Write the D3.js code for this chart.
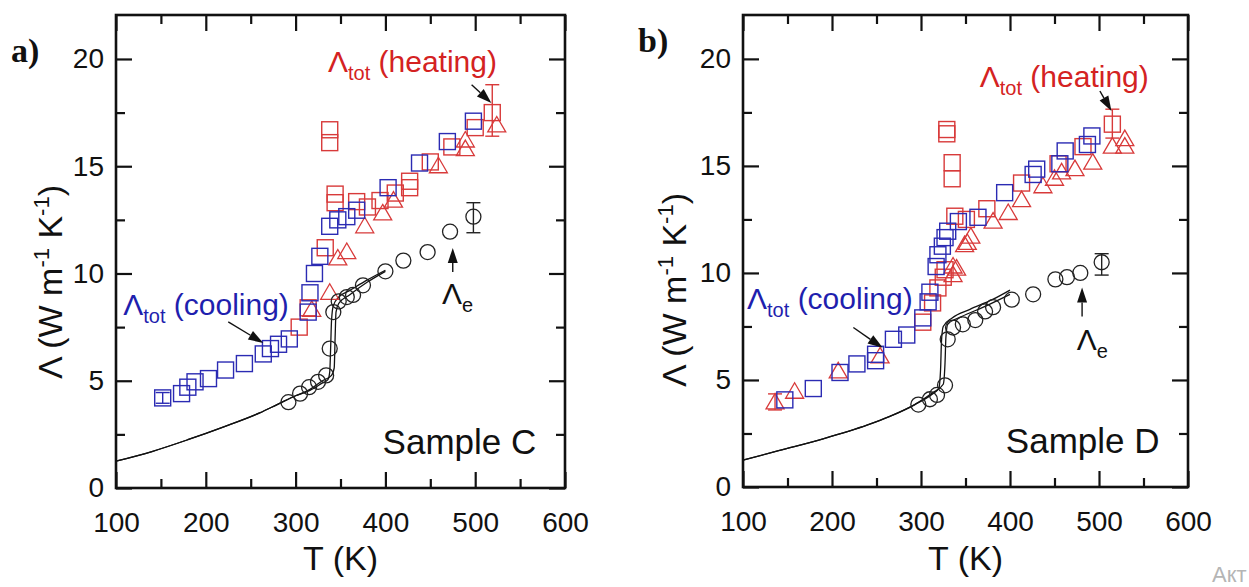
<!DOCTYPE html>
<html>
<head>
<meta charset="utf-8">
<script src="https://cdn.jsdelivr.net/npm/d3@7"></script>
<style>
  body { margin: 0; background: #fff; }
  svg { display: block; font-family: "Liberation Sans", Arial, sans-serif; }
</style>
</head>
<body>
<svg id="chart" width="1249" height="587"></svg>
<script>
// axis ticks, shared by both panels
var T_TICKS = [100, 200, 300, 400, 500, 600];
var T_MINOR = [150, 250, 350, 450, 550];
var L_TICKS = [0, 5, 10, 15, 20];
var L_MINOR = [2.5, 7.5, 12.5, 17.5];

// ---- sample C (panel a) : [T (K), Lambda (W m-1 K-1)]
var coolC = [[152,4.2],[173,4.4],[180,4.7],[188,4.95],[203,5.1],[222,5.5],[243,5.8],[264,6.25],[272,6.5],
  [281,6.7],[293,6.95],[314,8.2],[316,9.1],[321,10.0],[327,10.8],[338,12.2],[347,12.5],[357,12.65],
  [368,12.95],[403,14.0],[438,15.15],[469,16.15],[498,17.1]];
var heatSqC = [[304,7.5],[314,8.4],[333,11.2],[338,16.7],[338,16.1],[344,13.7],[344,13.3],[368,13.35],
  [380,13.1],[394,13.4],[411,13.75],[427,14.3],[427,14.0],[450,15.2],[474,15.9],[500,16.8],[519,17.5]];
var heatTriC = [[318,8.3],[338,9.1],[347,10.7],[357,11.0],[377,12.2],[397,12.8],[409,13.4],[459,15.0],
  [489,16.2],[489,15.8],[524,16.9]];
var elecC = [[292,4.0],[305,4.4],[315,4.7],[325,4.95],[334,5.25],[338,6.5],[342,8.2],[348,8.7],[357,8.9],
  [364,9.0],[375,9.45],[400,10.1],[420,10.6],[447,11.0],[472,11.95],[498,12.65]];
var modelC1 = [[100,1.25],[140,1.7],[180,2.25],[220,2.85],[260,3.5],[280,3.9],[300,4.3],[316,4.55],
  [330,4.9],[336,5.05],[338,5.4],[339,6.5],[340,7.8],[342,8.5],[348,8.9],[360,9.2],[380,9.7],[400,10.15]];
var modelC2 = [[100,1.25],[140,1.7],[180,2.25],[220,2.85],[260,3.5],[280,3.9],[300,4.3],[316,4.6],
  [330,5.0],[340,5.25],[343,5.6],[344,7.0],[345,8.2],[348,8.6],[360,9.0],[380,9.6],[400,10.1]];
// error bars: [T, low, high]
var errC = [[152,3.95,4.45],[519,16.4,18.8],[498,11.9,13.3]];

// ---- sample D (panel b)
var coolD = [[147,4.07],[179,4.6],[209,5.35],[228,5.75],[249,5.9],[249,6.2],[269,6.9],[284,7.1],[302,7.9],
  [308,8.65],[310,9.1],[317,10.3],[319,10.85],[324,11.25],[327,11.65],[330,11.95],[342,12.4],[364,12.6],
  [394,13.75],[426,14.6],[430,14.85],[456,15.1],[462,15.7],[487,16.0],[492,16.4]];
var heatSqD = [[302,7.7],[313,8.6],[319,9.3],[325,9.8],[327,10.15],[329,16.7],[329,16.5],[335,15.15],
  [335,14.4],[338,12.65],[351,12.5],[374,13.0],[413,14.2],[454,15.1],[482,15.9],[515,16.95]];
var heatTriD = [[136,3.95],[158,4.45],[207,5.4],[254,6.1],[336,9.9],[336,10.3],[340,10.2],[349,11.3],
  [352,11.4],[356,11.7],[381,12.4],[398,12.8],[413,13.4],[437,14.05],[450,14.4],[458,14.7],[473,14.85],
  [493,15.15],[515,15.9],[529,16.25],[529,15.9]];
var elecD = [[297,3.85],[310,4.1],[318,4.3],[327,4.75],[330,6.9],[336,7.45],[347,7.6],[361,7.8],[372,8.2],
  [381,8.4],[402,8.75],[426,9.0],[451,9.7],[464,9.8],[479,10.0],[503,10.5]];
var modelD1 = [[100,1.25],[140,1.7],[190,2.25],[240,2.9],[265,3.3],[293,3.85],[313,4.35],[320,4.6],
  [322,5.5],[323,6.8],[325,7.5],[335,7.9],[355,8.3],[380,8.75],[400,9.2]];
var modelD2 = [[100,1.25],[140,1.7],[190,2.25],[240,2.9],[265,3.3],[293,3.85],[313,4.4],[325,4.8],
  [327,5.8],[328,7.0],[330,7.6],[345,7.95],[370,8.4],[400,9.0]];
var errD = [[136,3.6,4.35],[515,16.3,17.65],[503,9.9,10.9]];

var BLUE = "#2b2bb3", RED = "#d83a3a", RED_TXT = "#d42222", BLUE_TXT = "#1f1fae", INK = "#111";

var svg = d3.select("#chart");
svg.append("rect").attr("width", 1249).attr("height", 587).attr("fill", "#fff");

function makePanel(box) {
  var x = d3.scaleLinear().domain([100, 600]).range([box.left, box.right]);
  var y = d3.scaleLinear().domain([0, 22.05]).range([box.bottom, box.top]);
  var g = svg.append("g");

  function axis(gen, scale, vals, size, labels, tx, ty) {
    var a = gen(scale).tickValues(vals).tickSizeInner(-size).tickSizeOuter(0);
    if (!labels) a.tickFormat("");
    var ag = g.append("g").attr("transform", "translate(" + tx + "," + ty + ")").call(a);
    ag.select(".domain").remove();
    ag.selectAll("line").attr("stroke", INK).attr("stroke-width", 2.2);
    return ag;
  }

  var bx = axis(d3.axisBottom, x, T_TICKS, 16, true, 0, box.bottom);
  bx.selectAll("text").attr("font-size", 28).attr("fill", INK).attr("font-family", "Liberation Sans, Arial, sans-serif");
  bx.selectAll(".tick text").attr("y", 24);
  axis(d3.axisBottom, x, T_MINOR, 9, false, 0, box.bottom);
  axis(d3.axisTop, x, T_TICKS, 16, false, 0, box.top);
  axis(d3.axisTop, x, T_MINOR, 9, false, 0, box.top);

  var ly = axis(d3.axisLeft, y, L_TICKS, 16, true, box.left, 0);
  ly.selectAll("text").attr("font-size", 28).attr("fill", INK).attr("font-family", "Liberation Sans, Arial, sans-serif").attr("x", -box.labelGap);
  axis(d3.axisLeft, y, L_MINOR, 9, false, box.left, 0);
  axis(d3.axisRight, y, L_TICKS, 16, false, box.right, 0);
  axis(d3.axisRight, y, L_MINOR, 9, false, box.right, 0);

  g.append("rect")
    .attr("x", box.left).attr("y", box.top)
    .attr("width", box.right - box.left).attr("height", box.bottom - box.top)
    .attr("fill", "none").attr("stroke", INK).attr("stroke-width", 2.6);

  // axis titles
  g.append("text")
    .attr("x", (box.left + box.right) / 2).attr("y", 570)
    .attr("text-anchor", "middle").attr("font-size", 34).attr("fill", INK)
    .text("T (K)");

  var yt = g.append("text")
    .attr("transform", "translate(" + box.titleX + "," + box.titleY + ") rotate(-90)")
    .attr("text-anchor", "middle").attr("font-size", 34).attr("fill", INK);
  yt.append("tspan").text("Λ (W m");
  yt.append("tspan").attr("font-size", 22).attr("dy", -13).text("-1");
  yt.append("tspan").attr("dy", 13).text(" K");
  yt.append("tspan").attr("font-size", 22).attr("dy", -13).text("-1");
  yt.append("tspan").attr("dy", 13).text(")");

  g.append("text")
    .attr("x", box.tagX).attr("y", box.tagY)
    .attr("font-family", "Liberation Serif, Times New Roman, serif")
    .attr("font-weight", "bold").attr("font-size", 34).attr("fill", INK)
    .text(box.tag);

  return { g: g, x: x, y: y };
}

function plotLines(p, curves) {
  var line = d3.line().x(function(d) { return p.x(d[0]); }).y(function(d) { return p.y(d[1]); })
    .curve(d3.curveMonotoneX);
  curves.forEach(function(c) {
    p.g.append("path").datum(c)
      .attr("d", line).attr("fill", "none").attr("stroke", INK).attr("stroke-width", 1.3);
  });
}

function plotErrors(p, errs, color) {
  errs.forEach(function(e, i) {
    var cx = p.x(e[0]);
    var eg = p.g.append("g").attr("stroke", color[i]).attr("stroke-width", 1.4);
    eg.append("line").attr("x1", cx).attr("x2", cx).attr("y1", p.y(e[1])).attr("y2", p.y(e[2]));
    [e[1], e[2]].forEach(function(v) {
      eg.append("line").attr("x1", cx - 7).attr("x2", cx + 7).attr("y1", p.y(v)).attr("y2", p.y(v));
    });
  });
}

function plotSquares(p, data, color) {
  p.g.append("g").selectAll("rect").data(data).enter().append("rect")
    .attr("x", function(d) { return p.x(d[0]) - 8; })
    .attr("y", function(d) { return p.y(d[1]) - 8; })
    .attr("width", 16).attr("height", 16)
    .attr("fill", "none").attr("stroke", color).attr("stroke-width", 1.4);
}

function plotTriangles(p, data, color) {
  p.g.append("g").selectAll("path").data(data).enter().append("path")
    .attr("d", function(d) {
      var cx = p.x(d[0]), cy = p.y(d[1]);
      return "M" + cx + "," + (cy - 9) + "L" + (cx + 9) + "," + (cy + 6.5) + "L" + (cx - 9) + "," + (cy + 6.5) + "Z";
    })
    .attr("fill", "none").attr("stroke", color).attr("stroke-width", 1.3);
}

function plotCircles(p, data) {
  p.g.append("g").selectAll("circle").data(data).enter().append("circle")
    .attr("cx", function(d) { return p.x(d[0]); })
    .attr("cy", function(d) { return p.y(d[1]); })
    .attr("r", 7.5).attr("fill", "none").attr("stroke", "#222").attr("stroke-width", 1.3);
}

function arrow(p, t1, v1, t2, v2) {
  var x1 = p.x(t1), y1 = p.y(v1), x2 = p.x(t2), y2 = p.y(v2);
  var ang = Math.atan2(y2 - y1, x2 - x1), len = 15, hw = 5;
  var bx = x2 - len * Math.cos(ang), by = y2 - len * Math.sin(ang);
  p.g.append("line").attr("x1", x1).attr("y1", y1).attr("x2", bx).attr("y2", by)
    .attr("stroke", INK).attr("stroke-width", 1.4);
  p.g.append("path")
    .attr("d", "M" + x2 + "," + y2 +
      "L" + (bx + hw * Math.sin(ang)) + "," + (by - hw * Math.cos(ang)) +
      "L" + (bx - hw * Math.sin(ang)) + "," + (by + hw * Math.cos(ang)) + "Z")
    .attr("fill", INK);
}

function lambdaLabel(p, t, v, sub, rest, color) {
  var tx = p.g.append("text").attr("x", p.x(t)).attr("y", p.y(v)).attr("font-size", 30).attr("fill", color);
  tx.append("tspan").text("Λ");
  tx.append("tspan").attr("font-size", 20).attr("dy", 8).text(sub);
  if (rest) tx.append("tspan").attr("font-size", 30).attr("dy", -8).text(rest);
}

function sampleLabel(p, text) {
  p.g.append("text").attr("x", p.x(568)).attr("y", p.y(1.6))
    .attr("text-anchor", "end").attr("font-size", 35).attr("fill", INK).text(text);
}

// ---- panel a
var pa = makePanel({ left: 116, right: 565, top: 15, bottom: 488, labelGap: 12,
  titleX: 62, titleY: 282, tag: "a)", tagX: 11, tagY: 62 });
plotLines(pa, [modelC1, modelC2]);
plotErrors(pa, errC, [BLUE, RED, "#222"]);
plotTriangles(pa, heatTriC, RED);
plotSquares(pa, heatSqC, RED);
plotSquares(pa, coolC, BLUE);
plotCircles(pa, elecC);
arrow(pa, 496, 18.8, 518, 17.95);
arrow(pa, 225, 7.74, 264, 6.76);
arrow(pa, 475, 10.07, 475, 11.19);
lambdaLabel(pa, 336, 19.4, "tot", " (heating)", RED_TXT);
lambdaLabel(pa, 108, 8.07, "tot", " (cooling)", BLUE_TXT);
lambdaLabel(pa, 463, 8.6, "e", null, INK);
sampleLabel(pa, "Sample C");

// ---- panel b
var pb = makePanel({ left: 743, right: 1188, top: 15, bottom: 487, labelGap: 12,
  titleX: 686, titleY: 290, tag: "b)", tagX: 638, tagY: 52 });
plotLines(pb, [modelD1, modelD2]);
plotErrors(pb, errD, [RED, RED, "#222"]);
plotTriangles(pb, heatTriD, RED);
plotSquares(pb, heatSqD, RED);
plotSquares(pb, coolD, BLUE);
plotCircles(pb, elecD);
arrow(pb, 501, 18.5, 514, 17.56);
arrow(pb, 224, 7.45, 257, 6.5);
arrow(pb, 481, 7.96, 481, 9.32);
lambdaLabel(pb, 366, 18.7, "tot", " (heating)", RED_TXT);
lambdaLabel(pb, 104.5, 8.3, "tot", " (cooling)", BLUE_TXT);
lambdaLabel(pb, 475, 6.4, "e", null, INK);
sampleLabel(pb, "Sample D");

// leftover of a screen overlay in the corner of the source picture
svg.append("text").attr("x", 1212).attr("y", 582).attr("font-size", 22).attr("fill", "#b5b5b5").text("Акт");
</script>
</body>
</html>
